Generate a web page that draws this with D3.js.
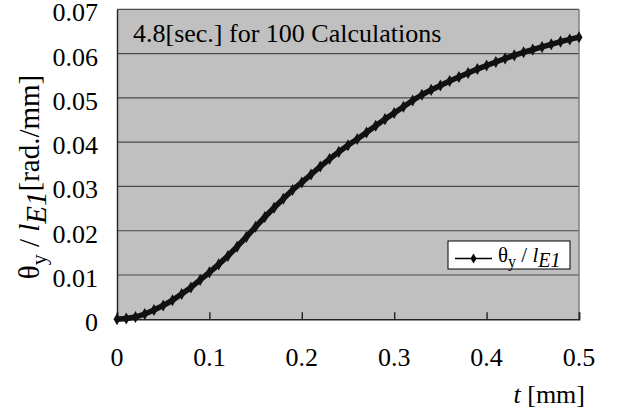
<!DOCTYPE html>
<html>
<head>
<meta charset="utf-8">
<script src="https://cdn.jsdelivr.net/npm/d3@7"></script>
<style>
  html, body { margin: 0; padding: 0; background: #fff; }
  svg { display: block; }
  svg text { font-family: "Times New Roman", "Liberation Serif", serif; }
</style>
</head>
<body>
<svg id="chart" width="621" height="418"></svg>
<script>
// ---- data ----
const tValues = [0.00,0.01,0.02,0.03,0.04,0.05,0.06,0.07,0.08,0.09,
                 0.10,0.11,0.12,0.13,0.14,0.15,0.16,0.17,0.18,0.19,
                 0.20,0.21,0.22,0.23,0.24,0.25,0.26,0.27,0.28,0.29,
                 0.30,0.31,0.32,0.33,0.34,0.35,0.36,0.37,0.38,0.39,
                 0.40,0.41,0.42,0.43,0.44,0.45,0.46,0.47,0.48,0.49,0.50];
const thetaValues = [0.0000,0.0002,0.0005,0.0012,0.0021,0.0031,0.0043,0.0057,0.0072,0.0089,
                     0.0106,0.0124,0.0143,0.0164,0.0186,0.0209,0.0231,0.0252,0.0272,0.0292,
                     0.0309,0.0327,0.0345,0.0362,0.0378,0.0393,0.0407,0.0422,0.0437,0.0452,
                     0.0466,0.0480,0.0494,0.0507,0.0518,0.0528,0.0538,0.0547,0.0556,0.0565,
                     0.0573,0.0581,0.0589,0.0596,0.0603,0.0609,0.0615,0.0621,0.0627,0.0632,0.0637];
const xTicks = [0, 0.1, 0.2, 0.3, 0.4, 0.5];
const yTicks = [0, 0.01, 0.02, 0.03, 0.04, 0.05, 0.06, 0.07];
const annotation = "4.8[sec.] for 100 Calculations";

const svg = d3.select("#chart");
const plot = { left: 117, right: 579, top: 9.3, bottom: 319.3 };

const x = d3.scaleLinear().domain([0, 0.5]).range([plot.left, plot.right]);
const y = d3.scaleLinear().domain([0, 0.07]).range([plot.bottom, plot.top]);

// plot background
svg.append("rect")
  .attr("x", plot.left).attr("y", plot.top)
  .attr("width", plot.right - plot.left).attr("height", plot.bottom - plot.top)
  .attr("fill", "#c0c0c0");

// grid lines
svg.append("g").selectAll("line").data(yTicks.filter(d => d > 0)).join("line")
  .attr("x1", plot.left).attr("x2", plot.right)
  .attr("y1", d => y(d)).attr("y2", d => y(d))
  .attr("stroke", "#4a4a4a").attr("stroke-width", 1.2);

// right border
svg.append("line")
  .attr("x1", plot.right).attr("x2", plot.right)
  .attr("y1", plot.top).attr("y2", plot.bottom)
  .attr("stroke", "#808080").attr("stroke-width", 1.5);

// x axis (ticks inside)
const xAxis = d3.axisBottom(x).tickValues(xTicks).tickSize(-7).tickFormat("");
svg.append("g").attr("transform", `translate(0,${plot.bottom})`).call(xAxis)
  .call(g => g.select(".domain").attr("stroke", "#222").attr("stroke-width", 1.6))
  .call(g => g.selectAll(".tick line").attr("stroke", "#222").attr("stroke-width", 1.4));

// y axis
const yAxis = d3.axisLeft(y).tickValues(yTicks).tickSize(0).tickFormat("");
svg.append("g").attr("transform", `translate(${plot.left},0)`).call(yAxis)
  .call(g => g.select(".domain").attr("stroke", "#222").attr("stroke-width", 1.4));

// x tick labels
svg.append("g").selectAll("text").data(xTicks).join("text")
  .attr("x", d => x(d)).attr("y", 366)
  .attr("text-anchor", "middle").attr("font-size", 26)
  .text(d => d === 0 ? "0" : d.toFixed(1));

// y tick labels
svg.append("g").selectAll("text").data(yTicks).join("text")
  .attr("x", 98).attr("y", d => y(d) + 12)
  .attr("text-anchor", "end").attr("font-size", 26)
  .text(d => d === 0 ? "0" : d.toFixed(2));

// annotation
svg.append("text")
  .attr("x", 133).attr("y", 42).attr("font-size", 26).text(annotation);

// series line
const pts = tValues.map((t, i) => [t, thetaValues[i]]);
svg.append("path").datum(pts)
  .attr("fill", "none").attr("stroke", "#111").attr("stroke-width", 5.5)
  .attr("stroke-linejoin", "round")
  .attr("d", d3.line().x(d => x(d[0])).y(d => y(d[1])));

const diamond = d3.symbol().type(d3.symbolDiamond).size(42);
svg.append("g").selectAll("path").data(pts).join("path")
  .attr("transform", d => `translate(${x(d[0])},${y(d[1])})`)
  .attr("d", diamond).attr("fill", "#111");

// y axis title
const yt = svg.append("text")
  .attr("transform", "translate(39,177) rotate(-90)")
  .attr("text-anchor", "middle").attr("font-size", 29);
yt.append("tspan").text("θ");
yt.append("tspan").attr("dy", 7).attr("font-size", 22).text("y");
yt.append("tspan").attr("dy", -7).text(" / ");
yt.append("tspan").attr("font-style", "italic").text("l");
yt.append("tspan").attr("dy", 7).attr("font-style", "italic").attr("font-size", 29).text("E1");
yt.append("tspan").attr("dy", -7).text("[rad./mm]");

// legend
const lg = svg.append("g");
lg.append("rect").attr("x", 448).attr("y", 241).attr("width", 122).attr("height", 28)
  .attr("fill", "#fff").attr("stroke", "#000").attr("stroke-width", 1);
lg.append("line").attr("x1", 455).attr("x2", 492).attr("y1", 258.5).attr("y2", 258.5)
  .attr("stroke", "#000").attr("stroke-width", 1.5);
lg.append("path").attr("transform", "translate(473.5,258.5)")
  .attr("d", d3.symbol().type(d3.symbolDiamond).size(30)).attr("fill", "#000");
const lt = lg.append("text")
  .attr("x", 498).attr("y", 262).attr("font-size", 21);
lt.append("tspan").text("θ");
lt.append("tspan").attr("dy", 5).attr("font-size", 16).text("y");
lt.append("tspan").attr("dy", -5).text(" / ");
lt.append("tspan").attr("font-style", "italic").text("l");
lt.append("tspan").attr("dy", 5).attr("font-style", "italic").attr("font-size", 20).text("E1");

// x axis title
const xt = svg.append("text")
  .attr("x", 585).attr("y", 403)
  .attr("text-anchor", "end").attr("font-size", 26);
xt.append("tspan").attr("font-style", "italic").text("t");
xt.append("tspan").text(" [mm]");
</script>
</body>
</html>
